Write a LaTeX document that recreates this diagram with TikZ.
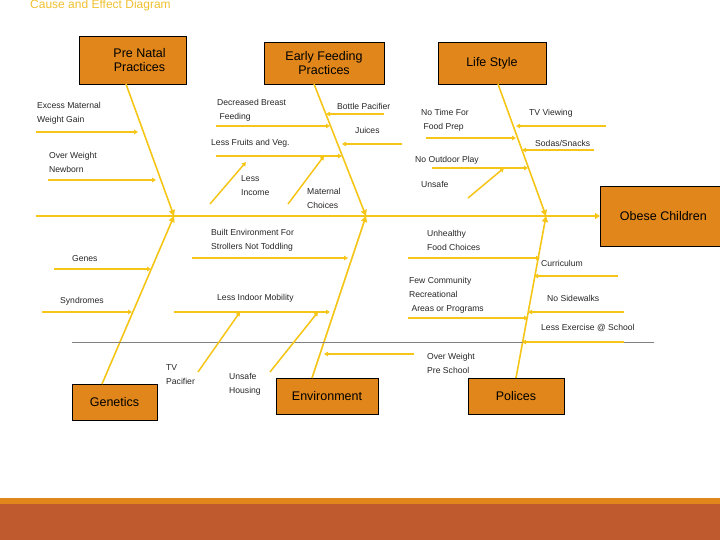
\documentclass[tikz,border=0pt]{standalone}
\usepackage{fontspec}
\setmainfont{Liberation Sans}
\usetikzlibrary{arrows.meta}
\definecolor{bx}{HTML}{E0861A}
\definecolor{yl}{HTML}{F5C518}
\definecolor{rust}{HTML}{BE5A2E}
\definecolor{ttl}{HTML}{F0C030}
\begin{document}
\begin{tikzpicture}[x=1pt,y=-1pt,
  box/.style={draw=black,fill=bx,line width=0.8pt,font=\fontsize{12.5}{14}\selectfont,align=center,inner sep=0pt},
  lbl/.style={anchor=west,font=\fontsize{8.6}{14}\selectfont,align=left,inner sep=0pt,text=black!85},
  bone/.style={draw=yl,line width=1.6pt,-{Triangle[length=6pt,width=6pt]}},
  arr/.style={draw=yl,line width=1.5pt,-{Triangle[length=4pt,width=4.5pt]}}]
\useasboundingbox (0,0) rectangle (720,540);
\fill[bx] (0,498) rectangle (720,504);
\fill[rust] (0,504) rectangle (720,540);
\node[anchor=west,text=ttl,font=\fontsize{12}{14}\selectfont,inner sep=0pt] (title) at (30,5) {Cause and Effect Diagram};
% boxes
\node[box,minimum width=107,minimum height=48] (pre) at (132.5,60) {\hspace*{14pt}Pre Natal\\\hspace*{14pt}Practices};
\node[box,minimum width=120,minimum height=42] (ef) at (324,63) {Early Feeding\\Practices};
\node[box,minimum width=108,minimum height=42] (ls) at (492,63) {Life Style};
\node[box,minimum width=122,minimum height=60,anchor=west] (ob) at (600,216) {\hspace*{4pt}Obese Children};
\node[box,minimum width=85,minimum height=36] (gen) at (114.5,402) {Genetics};
\node[box,minimum width=102,minimum height=36] (env) at (327,396) {Environment};
\node[box,minimum width=96,minimum height=36] (pol) at (516,396) {Polices};
% spine
\coordinate (tail) at (36,216);
\coordinate (j1) at (174,216);
\coordinate (j2) at (366,216);
\coordinate (j3) at (546,216);
\draw[draw=yl,line width=1.6pt,-{Triangle[length=5pt,width=6pt]}] (tail) -- (ob.west);
\draw[bone] (126,84) -- (j1);
\draw[bone] (314,84) -- (j2);
\draw[bone] (498,84) -- (j3);
\draw[bone] (102,384) -- (j1);
\draw[bone] (312,378) -- (j2);
\draw[bone] (516,378) -- (j3);
\draw[gray,line width=0.8pt] (72,342) coordinate (g1) -- (654,342) coordinate (g2);
% small arrows
\draw[arr] (36,132) coordinate (s1) -- (138,132) coordinate (e1);
\draw[arr] (48,180) coordinate (s2) -- (156,180) coordinate (e2);
\draw[arr] (216,126) coordinate (s3) -- (330,126) coordinate (e3);
\draw[arr] (384,114) coordinate (s4) -- (326,114) coordinate (e4);
\draw[arr] (402,144) coordinate (s5) -- (342,144) coordinate (e5);
\draw[arr] (216,156) coordinate (s6) -- (342,156) coordinate (e6);
\draw[arr] (210,204) coordinate (s7) -- (246,162) coordinate (e7);
\draw[arr] (288,204) coordinate (s8) -- (324,156) coordinate (e8);
\draw[arr] (426,138) coordinate (s9) -- (516,138) coordinate (e9);
\draw[arr] (606,126) coordinate (s10) -- (516,126) coordinate (e10);
\draw[arr] (594,150) coordinate (s11) -- (522,150) coordinate (e11);
\draw[arr] (432,168) coordinate (s12) -- (528,168) coordinate (e12);
\draw[arr] (468,198) coordinate (s13) -- (504,168) coordinate (e13);
\draw[arr] (54,269) coordinate (s14) -- (151,269) coordinate (e14);
\draw[arr] (42,312) coordinate (s15) -- (132,312) coordinate (e15);
\draw[arr] (192,258) coordinate (s16) -- (348,258) coordinate (e16);
\draw[arr] (174,312) coordinate (s17) -- (330,312) coordinate (e17);
\draw[arr] (198,372) coordinate (s18) -- (240,312) coordinate (e18);
\draw[arr] (270,372) coordinate (s19) -- (318,312) coordinate (e19);
\draw[arr] (414,354) coordinate (s20) -- (324,354) coordinate (e20);
\draw[arr] (408,258) coordinate (s21) -- (540,258) coordinate (e21);
\draw[arr] (618,276) coordinate (s22) -- (534,276) coordinate (e22);
\draw[arr] (408,318) coordinate (s23) -- (528,318) coordinate (e23);
\draw[arr] (624,312) coordinate (s24) -- (528,312) coordinate (e24);
\draw[arr] (624,342) coordinate (s25) -- (522,342) coordinate (e25);
% labels
\node[lbl] (l1) at (37,113) {Excess Maternal\\Weight Gain};
\node[lbl] (l2) at (49,162) {Over Weight\\Newborn};
\node[lbl] (l3) at (217,110) {Decreased Breast\\\ Feeding};
\node[lbl] (l4) at (337,106) {Bottle Pacifier};
\node[lbl] (l5) at (355,130) {Juices};
\node[lbl] (l6) at (211,143) {Less Fruits and Veg.};
\node[lbl] (l7) at (241,186) {Less\\Income};
\node[lbl] (l8) at (307,198) {Maternal\\Choices};
\node[lbl] (l9) at (421,120) {No Time For\\\ Food Prep};
\node[lbl] (l10) at (529,113) {TV Viewing};
\node[lbl] (l11) at (535,143) {Sodas/Snacks};
\node[lbl] (l12) at (415,160) {No Outdoor Play};
\node[lbl] (l13) at (421,184) {Unsafe};
\node[lbl] (l14) at (211,240) {Built Environment For\\Strollers Not Toddling};
\node[lbl] (l15) at (72,259) {Genes};
\node[lbl] (l16) at (427,240) {Unhealthy\\Food Choices};
\node[lbl] (l17) at (541,263) {Curriculum};
\node[lbl] (l18) at (409,295) {Few Community\\Recreational\\\ Areas or Programs};
\node[lbl] (l19) at (547,298) {No Sidewalks};
\node[lbl] (l20) at (60,301) {Syndromes};
\node[lbl] (l21) at (217,298) {Less Indoor Mobility};
\node[lbl] (l22) at (541,328) {Less Exercise @ School};
\node[lbl] (l23) at (166,375) {TV\\Pacifier};
\node[lbl] (l24) at (229,384) {Unsafe\\Housing};
\node[lbl] (l25) at (427,363) {Over Weight\\Pre School};
\end{tikzpicture}
\end{document}
